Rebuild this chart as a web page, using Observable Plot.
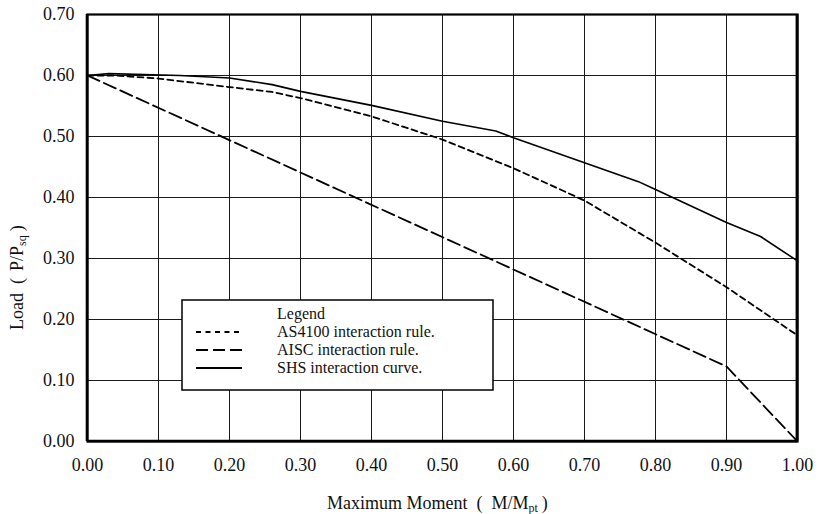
<!DOCTYPE html>
<html>
<head>
<meta charset="utf-8">
<script src="https://cdn.jsdelivr.net/npm/d3@7"></script>
<script src="https://cdn.jsdelivr.net/npm/@observablehq/plot@0.6"></script>
<style>
  html, body { margin: 0; padding: 0; background: #fff; }
  #chart svg { display: block; }
</style>
</head>
<body>
<div id="chart"></div>
<script>
// ---- data ----
const seriesNames = ["AS4100 interaction rule.", "AISC interaction rule.", "SHS interaction curve."];

const as4100Moment = [0.00, 0.04, 0.10, 0.20, 0.26, 0.30, 0.40, 0.50, 0.60, 0.70, 0.80, 0.90, 1.00];
const as4100Load   = [0.600, 0.600, 0.595, 0.581, 0.573, 0.563, 0.533, 0.495, 0.448, 0.395, 0.326, 0.253, 0.174];

const aiscMoment = [0.00, 0.90, 1.00];
const aiscLoad   = [0.600, 0.123, 0.000];

const shsMoment = [0.00, 0.03, 0.13, 0.20, 0.26, 0.30, 0.40, 0.50, 0.575, 0.60, 0.70, 0.776, 0.80, 0.90, 0.948, 1.00];
const shsLoad   = [0.600, 0.603, 0.600, 0.596, 0.585, 0.574, 0.551, 0.525, 0.509, 0.498, 0.457, 0.426, 0.413, 0.359, 0.336, 0.296];

const xTicks = [0.0, 0.1, 0.2, 0.3, 0.4, 0.5, 0.6, 0.7, 0.8, 0.9, 1.0];
const yTicks = [0.0, 0.1, 0.2, 0.3, 0.4, 0.5, 0.6, 0.7];

// ---- build tables ----
const toRows = (xs, ys, name) => xs.map((m, i) => ({moment: m, load: ys[i], series: name}));
const as4100 = toRows(as4100Moment, as4100Load, seriesNames[0]);
const aisc   = toRows(aiscMoment, aiscLoad, seriesNames[1]);
const shs    = toRows(shsMoment, shsLoad, seriesNames[2]);

const FONT = "Liberation Serif, Times New Roman, serif";

const W = 824, H = 514;
const M = {top: 14, right: 27, bottom: 73, left: 87};

const plot = Plot.plot({
  width: W,
  height: H,
  marginTop: M.top,
  marginRight: M.right,
  marginBottom: M.bottom,
  marginLeft: M.left,
  style: {fontFamily: FONT, fontSize: "18px", color: "#111", background: "#fff"},
  x: {domain: [0, 1], ticks: xTicks, tickFormat: d3.format(".2f"), label: null},
  y: {domain: [0, 0.7], ticks: yTicks, tickFormat: d3.format(".2f"), label: null},
  marks: [
    Plot.gridX(xTicks, {stroke: "#1a1a1a", strokeOpacity: 1, strokeWidth: 1}),
    Plot.gridY(yTicks, {stroke: "#1a1a1a", strokeOpacity: 1, strokeWidth: 1}),
    Plot.axisX(xTicks, {tickSize: 0, tickPadding: 17, tickFormat: d3.format(".2f"), label: null, fontSize: 18}),
    Plot.axisY(yTicks, {tickSize: 0, tickPadding: 13, tickFormat: d3.format(".2f"), label: null, fontSize: 18}),
    Plot.line(as4100, {x: "moment", y: "load", stroke: "#000", strokeWidth: 1.8, strokeDasharray: "6,4"}),
    Plot.line(aisc, {x: "moment", y: "load", stroke: "#000", strokeWidth: 1.8, strokeDasharray: "13,5"}),
    Plot.line(shs, {x: "moment", y: "load", stroke: "#000", strokeWidth: 1.6}),
    Plot.frame({stroke: "#000", strokeWidth: 2.2})
  ]
});

document.getElementById("chart").appendChild(plot);

// ---- titles & legend (drawn into the same SVG) ----
const svg = d3.select(plot);

// heavier left/right/bottom borders
svg.append("line").attr("x1", M.left).attr("x2", M.left).attr("y1", M.top).attr("y2", H - M.bottom)
  .attr("stroke", "#000").attr("stroke-width", 2.6);
svg.append("line").attr("x1", W - M.right).attr("x2", W - M.right).attr("y1", M.top).attr("y2", H - M.bottom)
  .attr("stroke", "#000").attr("stroke-width", 2.8);
svg.append("line").attr("x1", M.left).attr("x2", W - M.right).attr("y1", H - M.bottom).attr("y2", H - M.bottom)
  .attr("stroke", "#000").attr("stroke-width", 2.6);

// x title
const xt = svg.append("text")
  .attr("x", 327).attr("y", 509)
  .style("text-anchor", "start")
  .style("font-size", "18px").attr("fill", "#111");
xt.append("tspan").text("Maximum Moment");
xt.append("tspan").attr("dx", 9).text("(");
xt.append("tspan").attr("dx", 9).text("M/M");
xt.append("tspan").style("font-size", "12px").attr("dy", 3).text("pt");
xt.append("tspan").attr("dy", -3).attr("dx", 4).text(")");

// y title
const yt = svg.append("text")
  .attr("transform", "translate(23,330) rotate(-90)")
  .style("text-anchor", "start")
  .style("font-size", "18px").attr("fill", "#111");
yt.append("tspan").text("Load");
yt.append("tspan").attr("dx", 9).text("(");
yt.append("tspan").attr("dx", 7).text("P/P");
yt.append("tspan").style("font-size", "12px").attr("dy", 3).text("sq");
yt.append("tspan").attr("dy", -3).attr("dx", 4).text(")");

// legend box
const lg = svg.append("g");
lg.append("rect").attr("x", 182).attr("y", 300).attr("width", 311).attr("height", 90)
  .attr("fill", "#fff").attr("stroke", "#000").attr("stroke-width", 1.5);
lg.append("text").attr("x", 277).attr("y", 319)
  .style("text-anchor", "start").style("font-size", "16px").attr("fill", "#111").text("Legend");
const legendDash = ["5,4.5", "12,5", null];
seriesNames.forEach((name, i) => {
  const cy = 332 + i * 18;
  const ln = lg.append("line").attr("x1", 196).attr("x2", 242).attr("y1", cy).attr("y2", cy)
    .attr("stroke", "#000").attr("stroke-width", 1.8);
  if (legendDash[i]) ln.attr("stroke-dasharray", legendDash[i]);
  lg.append("text").attr("x", 277).attr("y", cy + 5)
    .style("text-anchor", "start").style("font-size", "16px").attr("fill", "#111").text(name);
});

// force the serif face on every text element
svg.selectAll("text, tspan").style("font-family", FONT);
svg.style("font-family", FONT);
</script>
</body>
</html>
